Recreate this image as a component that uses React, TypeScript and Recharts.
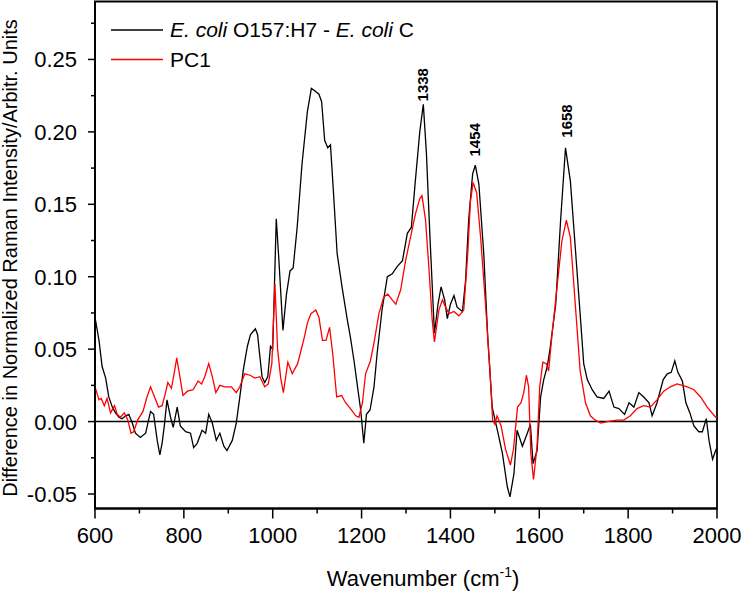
import React from "react";
import {
  LineChart,
  Line,
  XAxis,
  YAxis,
  ReferenceLine,
  ReferenceDot,
  ReferenceArea,
  Label,
  Customized,
} from "recharts";

// ---------- data ----------
const diffWavenumber = [
  600, 609, 616, 624, 631, 639, 646, 654, 661, 669, 676, 684, 691, 702, 714, 725, 732, 740, 746, 751,
  756, 762, 770, 776, 785, 792, 804, 815, 822, 830, 841, 849, 856, 864, 873, 881, 890, 897, 909, 918,
  926, 934, 943, 950, 961, 966, 970, 976, 982, 989, 995, 1000, 1008, 1014, 1023, 1031, 1039, 1046, 1055, 1066,
  1078, 1087, 1096, 1104, 1110, 1117, 1124, 1130, 1136, 1145, 1156, 1168, 1175, 1183, 1190, 1198, 1205, 1211, 1219, 1228,
  1235, 1246, 1258, 1269, 1280, 1292, 1303, 1312, 1321, 1331, 1339, 1346, 1354, 1364, 1372, 1379, 1387, 1393, 1400, 1408,
  1415, 1427, 1434, 1441, 1450, 1456, 1464, 1475, 1484, 1494, 1505, 1517, 1528, 1534, 1543, 1550, 1562, 1573, 1580, 1586,
  1595, 1603, 1610, 1618, 1625, 1637, 1648, 1659, 1670, 1682, 1693, 1700, 1708, 1719, 1730, 1745, 1757, 1768, 1779, 1792,
  1802, 1813, 1824, 1835, 1847, 1854, 1865, 1879, 1888, 1897, 1905, 1912, 1922, 1930, 1939, 1948, 1959, 1967, 1976, 1982,
  1990, 1997, 2000,
];
const diffValues = [
  0.072, 0.056, 0.038, 0.03, 0.017, 0.01, 0.006, 0.003, 0.002, 0.004, 0.005, -0.001, -0.008, -0.011, -0.008, 0.007, 0.005, -0.013, -0.023, -0.015,
  -0.003, 0.015, 0.003, -0.004, 0.01, -0.003, -0.007, -0.008, -0.018, -0.015, -0.006, -0.008, 0.005, -0.001, -0.013, -0.008, -0.017, -0.02, -0.013, -0.001,
  0.017, 0.036, 0.052, 0.06, 0.064, 0.06, 0.048, 0.031, 0.027, 0.031, 0.052, 0.05, 0.14, 0.111, 0.063, 0.088, 0.104, 0.106, 0.134, 0.178,
  0.214, 0.23, 0.228, 0.226, 0.221, 0.194, 0.189, 0.191, 0.162, 0.116, 0.093, 0.07, 0.058, 0.042, 0.026, 0.008, -0.015, 0.005, 0.008, 0.024,
  0.047, 0.077, 0.1, 0.102, 0.107, 0.111, 0.13, 0.134, 0.166, 0.2, 0.219, 0.185, 0.127, 0.061, 0.081, 0.093, 0.084, 0.071, 0.081, 0.087,
  0.079, 0.076, 0.097, 0.139, 0.171, 0.177, 0.164, 0.116, 0.058, 0.01, -0.005, -0.022, -0.045, -0.052, -0.036, -0.006, -0.017, -0.008, -0.002, -0.029,
  -0.02, 0.017, 0.029, 0.038, 0.052, 0.081, 0.139, 0.189, 0.166, 0.116, 0.07, 0.04, 0.029, 0.022, 0.017, 0.016, 0.021, 0.01, 0.009, 0.005,
  0.013, 0.01, 0.02, 0.017, 0.013, 0.004, 0.013, 0.029, 0.033, 0.034, 0.042, 0.034, 0.028, 0.013, 0.006, -0.003, -0.007, -0.007, 0.002, -0.013,
  -0.026, -0.02, -0.018,
];

const pc1Wavenumber = [
  600, 609, 614, 621, 627, 635, 644, 650, 657, 666, 674, 681, 687, 696, 708, 717, 725, 734, 743, 751,
  758, 764, 772, 778, 784, 791, 798, 808, 821, 832, 840, 847, 856, 864, 872, 881, 892, 907, 918, 926,
  937, 949, 960, 971, 982, 990, 998, 1005, 1011, 1018, 1024, 1034, 1044, 1056, 1062, 1071, 1078, 1086, 1097, 1104,
  1112, 1120, 1128, 1135, 1144, 1155, 1164, 1175, 1187, 1194, 1202, 1209, 1220, 1229, 1239, 1250, 1259, 1269, 1277, 1288,
  1299, 1310, 1321, 1331, 1336, 1344, 1352, 1359, 1364, 1374, 1382, 1389, 1397, 1408, 1419, 1430, 1439, 1445, 1451, 1459,
  1468, 1479, 1489, 1495, 1500, 1505, 1514, 1524, 1535, 1542, 1551, 1559, 1565, 1571, 1576, 1581, 1587, 1595, 1601, 1608,
  1616, 1621, 1628, 1640, 1651, 1661, 1670, 1681, 1692, 1704, 1715, 1726, 1738, 1753, 1775, 1790, 1805, 1820, 1835, 1850,
  1865, 1880, 1895, 1910, 1922, 1933, 1948, 1963, 1978, 1997, 2000,
];
const pc1Values = [
  0.024, 0.015, 0.016, 0.011, 0.016, 0.006, 0.011, 0.005, 0.003, 0.006, 0.001, -0.008, -0.007, 0.001, 0.007, 0.017, 0.024, 0.017, 0.01, 0.011,
  0.019, 0.027, 0.023, 0.033, 0.044, 0.031, 0.018, 0.021, 0.022, 0.028, 0.026, 0.031, 0.04, 0.031, 0.02, 0.025, 0.024, 0.024, 0.02, 0.024,
  0.033, 0.032, 0.03, 0.031, 0.024, 0.026, 0.04, 0.095, 0.05, 0.03, 0.02, 0.041, 0.033, 0.04, 0.047, 0.058, 0.068, 0.0745, 0.077, 0.072,
  0.056, 0.056, 0.065, 0.047, 0.017, 0.018, 0.013, 0.009, 0.004, 0.003, 0.013, 0.033, 0.042, 0.056, 0.0745, 0.086, 0.088, 0.084, 0.081, 0.091,
  0.111, 0.127, 0.143, 0.154, 0.156, 0.139, 0.104, 0.07, 0.055, 0.077, 0.084, 0.079, 0.0745, 0.076, 0.073, 0.077, 0.116, 0.152, 0.165, 0.158,
  0.127, 0.081, 0.035, 0.001, -0.002, 0.004, -0.003, -0.019, -0.03, -0.019, 0.01, 0.013, 0.02, 0.032, 0.024, -0.022, -0.04, -0.017, 0.024, 0.041,
  0.04, 0.035, 0.058, 0.093, 0.125, 0.139, 0.127, 0.081, 0.035, 0.013, 0.004, 0.001, -0.001, 0.0, 0.001, 0.001, 0.004, 0.009, 0.011, 0.01,
  0.015, 0.021, 0.024, 0.026, 0.025, 0.024, 0.022, 0.017, 0.01, 0.003, 0.003,
];

const seriesNames = ["E. coli O157:H7 - E. coli C", "PC1"];
const seriesColors = ["#000000", "#ff0000"];

const xTicks = [600, 700, 800, 900, 1000, 1100, 1200, 1300, 1400, 1500, 1600, 1700, 1800, 1900, 2000];
const yTicks = [-0.05, -0.025, 0, 0.025, 0.05, 0.075, 0.1, 0.125, 0.15, 0.175, 0.2, 0.225, 0.25, 0.275];

const peakLabels = ["1338", "1454", "1658"];
const peakLabelX = [1338, 1455, 1662];
const peakLabelY = [0.221, 0.183, 0.196];

const diffData = diffWavenumber.map((x, i) => ({ x, y: diffValues[i] }));
const pc1Data = pc1Wavenumber.map((x, i) => ({ x, y: pc1Values[i] }));

const FONT = "'Liberation Sans', Arial, Helvetica, sans-serif";

const XTick = (props: any) => {
  const { x, y, payload } = props;
  const v = payload.value;
  const major = v % 200 === 0;
  return (
    <g>
      <line x1={x} x2={x} y1={y} y2={y + (major ? 10 : 5)} stroke="#000" strokeWidth={1.5} />
      {major && (
        <text x={x} y={y + 34} textAnchor="middle" fontSize={22} fontFamily={FONT} fill="#000">
          {v}
        </text>
      )}
    </g>
  );
};

const YTick = (props: any) => {
  const { x, y, payload } = props;
  const v = payload.value;
  const major = Math.abs(Math.round(v * 1000)) % 50 === 0;
  return (
    <g>
      <line x1={x} x2={x - (major ? 7 : 4)} y1={y} y2={y} stroke="#000" strokeWidth={1.5} />
      {major && (
        <text x={x - 18} y={y} dy="0.36em" textAnchor="end" fontSize={22} fontFamily={FONT} fill="#000">
          {v.toFixed(2)}
        </text>
      )}
    </g>
  );
};

const PeakShape = (label: string) => (props: any) => {
  const { cx, cy } = props;
  return (
    <text
      transform={`translate(${cx},${cy}) rotate(-90)`}
      dy="0.36em"
      textAnchor="start"
      fontSize={15}
      fontWeight="bold"
      fontFamily={FONT}
      fill="#000"
    >
      {label}
    </text>
  );
};

const LegendBox = () => {
  const rows = [30, 59.5];
  return (
    <g>
      {seriesNames.map((name, i) => (
        <g key={name}>
          <line x1={111} x2={163} y1={rows[i]} y2={rows[i]} stroke={seriesColors[i]} strokeWidth={1.3} />
          <text x={170} y={rows[i] + 7.4} fontSize={21} fontFamily={FONT} fill="#000">
            {i === 0 ? (
              <>
                <tspan fontStyle="italic">E. coli</tspan>
                <tspan> O157:H7 - </tspan>
                <tspan fontStyle="italic">E. coli</tspan>
                <tspan> C</tspan>
              </>
            ) : (
              name
            )}
          </text>
        </g>
      ))}
    </g>
  );
};

export default function App() {
  return (
    <div style={{ position: "absolute", left: 0, top: 0, background: "#fff" }}>
      <LineChart width={743} height={593} margin={{ top: 1.5, right: 26, bottom: 24.5, left: 15 }}>
        <XAxis
          dataKey="x"
          type="number"
          domain={[600, 2000]}
          ticks={xTicks}
          interval={0}
          allowDataOverflow
          height={60}
          tickSize={0}
          tickMargin={0}
          tickLine={false}
          axisLine={{ stroke: "#000", strokeWidth: 1.8 }}
          tick={<XTick />}
        >
          <Label
            content={(p: any) => {
              const vb = p.viewBox;
              return (
                <text
                  x={vb.x + vb.width / 2 + 17}
                  y={586}
                  textAnchor="middle"
                  fontSize={22}
                  fontFamily={FONT}
                  fill="#000"
                >
                  Wavenumber (cm
                  <tspan fontSize={14} dy={-9}>
                    -1
                  </tspan>
                  <tspan dy={9}>)</tspan>
                </text>
              );
            }}
          />
        </XAxis>
        <YAxis
          type="number"
          domain={[-0.06, 0.29]}
          ticks={yTicks}
          interval={0}
          allowDataOverflow
          width={80}
          tickSize={0}
          tickMargin={0}
          tickLine={false}
          axisLine={{ stroke: "#000", strokeWidth: 1.8 }}
          tick={<YTick />}
        >
          <Label
            content={(p: any) => {
              const vb = p.viewBox;
              const cy = vb.y + vb.height / 2 + 3;
              return (
                <text
                  transform={`translate(17,${cy}) rotate(-90)`}
                  textAnchor="middle"
                  fontSize={20}
                  fontFamily={FONT}
                  fill="#000"
                >
                  Difference in Normalized Raman Intensity/Arbitr. Units
                </text>
              );
            }}
          />
        </YAxis>
        <ReferenceArea
          x1={600}
          x2={2000}
          y1={-0.06}
          y2={0.29}
          fill="none"
          fillOpacity={0}
          stroke="#000"
          strokeWidth={1.8}
          ifOverflow="visible"
        />
        <ReferenceLine y={0} stroke="#000" strokeWidth={1.5} />
        <Line
          data={diffData}
          dataKey="y"
          name={seriesNames[0]}
          stroke={seriesColors[0]}
          strokeWidth={1.3}
          dot={false}
          type="linear"
          isAnimationActive={false}
        />
        <Line
          data={pc1Data}
          dataKey="y"
          name={seriesNames[1]}
          stroke={seriesColors[1]}
          strokeWidth={1.3}
          dot={false}
          type="linear"
          isAnimationActive={false}
        />
        {peakLabels.map((lab, i) => (
          <ReferenceDot
            key={lab}
            x={peakLabelX[i]}
            y={peakLabelY[i]}
            r={0}
            ifOverflow="visible"
            shape={PeakShape(lab)}
          />
        ))}
        <Customized component={LegendBox} />
      </LineChart>
    </div>
  );
}
